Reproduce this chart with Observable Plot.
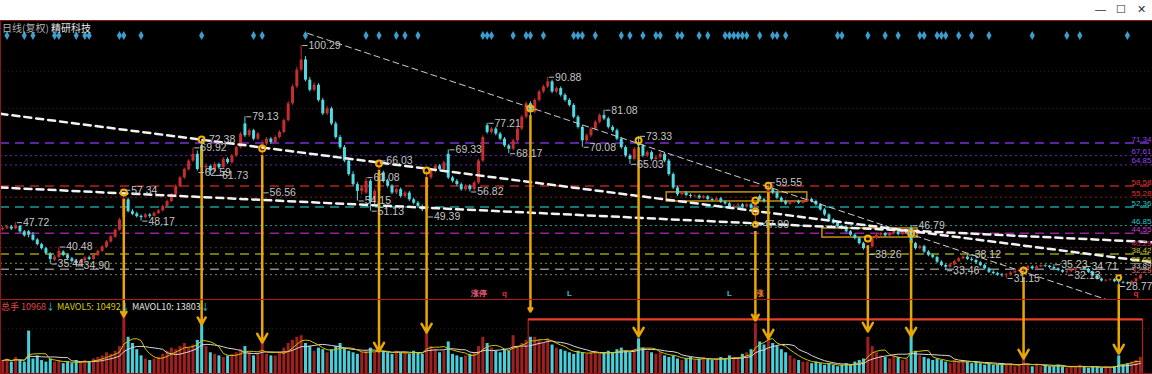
<!DOCTYPE html>
<html><head><meta charset="utf-8">
<script src="https://cdn.jsdelivr.net/npm/d3@7"></script>
<script src="https://cdn.jsdelivr.net/npm/@observablehq/plot@0.6"></script>
<style>
html,body{margin:0;padding:0;background:#000;width:1152px;height:374px;overflow:hidden;font-family:"Liberation Sans","Noto Sans CJK SC",sans-serif;}
#wrap{position:relative;width:1152px;height:374px;background:#000;}
#top{position:absolute;left:0;top:0;width:1152px;height:20px;background:#fff;}
.wc{position:absolute;top:3px;font-size:11px;color:#333;line-height:12px;}
#pricePanel{position:absolute;left:0;top:20px;width:1152px;height:280px;}
#volPanel{position:absolute;left:0;top:300px;width:1152px;height:74px;}
.hl{position:absolute;left:0;width:1152px;height:1px;background:#8e1616;}
.vl{position:absolute;left:0;top:20px;width:1px;height:354px;background:#8e1616;}
#title{position:absolute;left:2px;top:21px;font-size:10px;color:#b4b4b4;font-family:"Noto Sans CJK SC",sans-serif;line-height:13px;}
#volLabel{position:absolute;left:1px;top:301px;font-size:9px;line-height:11px;font-family:"Noto Sans CJK SC","Liberation Sans",sans-serif;}
svg{display:block;}
</style></head>
<body><div id="wrap">
<div id="top"><span class="wc" style="left:1095px">—</span><span class="wc" style="left:1116px">☐</span><span class="wc" style="left:1137px">✕</span></div>
<div id="pricePanel"></div>
<div id="volPanel"></div>
<div class="hl" style="top:20px"></div>
<div class="hl" style="top:299px;background:#b01c1c"></div>
<div class="hl" style="top:373px"></div>
<div class="vl"></div>
<div id="title">日线(复权) <span style="color:#e6e6e6">精研科技</span></div>
<div id="volLabel"><span style="color:#e04848">总手 10968</span><span style="color:#3cc8d8">↓</span> <span style="color:#d4cc10">MAVOL5: 10492</span><span style="color:#3cc8d8">↓</span> <span style="color:#e0e0e0">MAVOL10: 13803</span><span style="color:#3cc8d8">↓</span></div>
</div>
<script>
// ---- daily candles (复权), index 0..263 ----
const open = [
45.6,46.0,46.4,45.9,46.6,45.0,45.0,44.0,42.6,41.2,
40.0,38.4,36.6,37.4,39.0,38.0,37.0,36.2,35.6,36.4,
37.3,36.8,38.0,39.2,40.4,42.0,43.4,45.5,49.2,54.5,
51.0,50.3,49.6,49.2,50.0,49.6,50.4,51.2,52.4,54.0,
56.0,58.4,61.0,63.4,66.0,68.0,70.5,64.0,64.4,63.0,
65.0,64.0,66.5,65.5,67.5,70.0,77.0,73.5,75.0,72.5,
69.5,71.0,72.5,71.5,73.0,74.5,78.0,83.0,88.0,93.0,
96.0,90.0,87.0,88.5,84.0,80.0,81.5,77.0,73.0,70.0,
66.0,62.0,59.0,57.0,56.5,60.0,54.0,57.0,62.5,60.0,
58.5,56.5,57.5,55.5,56.5,54.5,53.5,52.5,51.0,61.0,
63.0,64.5,63.5,68.0,61.0,60.0,59.0,57.5,58.5,57.5,
59.5,66.0,76.5,74.5,75.5,74.0,72.5,70.5,69.5,72.0,
75.5,79.0,83.0,80.5,84.0,86.5,88.0,89.5,86.5,87.5,
85.5,84.0,82.5,79.0,76.0,72.0,73.5,75.5,77.5,79.5,
78.5,76.0,75.0,72.5,70.0,67.5,66.5,71.5,70.5,67.5,
68.5,66.5,67.0,68.0,66.0,62.0,58.0,56.0,56.5,55.8,
55.5,55.6,55.0,55.4,54.6,54.3,54.8,53.8,53.3,52.2,
52.6,53.0,52.4,53.0,52.0,55.5,54.5,54.0,57.5,56.5,
55.0,54.0,53.2,53.8,54.0,53.5,54.0,54.6,54.0,53.0,
51.5,50.0,48.5,47.5,46.5,46.0,45.0,44.0,43.0,41.5,
40.0,40.5,43.0,44.0,44.5,43.8,44.4,45.0,44.2,45.0,
46.0,41.5,40.0,40.6,39.0,38.0,37.4,36.0,35.0,34.5,
35.2,36.2,37.0,37.5,36.8,36.5,35.8,35.0,34.0,33.0,
32.6,32.2,32.0,32.2,32.8,33.2,33.6,34.2,34.6,34.0,
34.6,35.0,34.8,34.4,34.0,33.5,33.0,33.2,33.6,34.0,
34.3,33.9,33.0,32.0,31.0,30.4,30.6,30.8,30.2,30.0,
29.8,29.6,30.2,31.0];
const high = [
46.6,47.0,46.8,47.72,46.9,45.4,45.4,44.8,43.0,41.6,
40.4,38.8,38.0,40.48,39.4,38.4,37.4,36.6,36.8,37.6,
37.8,38.4,39.6,40.9,42.4,43.9,45.9,49.0,57.34,55.0,
51.6,50.8,50.0,50.5,50.4,50.9,51.6,52.9,54.4,56.4,
58.9,61.4,63.9,66.4,69.92,69.0,72.38,65.2,64.8,65.6,
65.4,67.0,67.0,68.0,70.5,74.5,79.13,75.5,75.4,74.5,
72.0,73.0,73.0,73.5,75.0,78.5,83.6,88.6,93.8,100.29,
97.0,90.8,89.2,89.0,84.6,82.2,82.0,77.6,73.6,70.6,
66.6,62.8,59.6,58.6,61.08,60.5,57.6,66.03,63.0,60.6,
59.0,58.0,58.0,57.0,57.0,55.0,54.0,53.0,63.0,63.6,
65.0,65.0,66.0,69.33,61.5,60.5,59.5,59.0,59.0,60.0,
66.5,73.5,77.21,76.0,76.0,74.5,73.0,71.0,72.5,76.0,
79.5,83.5,83.6,84.5,87.0,88.5,90.88,90.0,88.0,88.0,
86.0,84.5,83.0,79.5,76.5,74.0,76.0,78.0,80.0,81.08,
79.0,76.5,75.5,73.0,70.5,68.0,70.0,73.33,71.0,69.0,
69.0,67.5,68.5,68.5,66.5,62.5,58.5,57.0,57.0,56.2,
56.0,56.0,55.8,55.8,55.0,55.2,55.2,54.2,53.7,53.0,
53.4,53.4,53.4,53.4,54.0,56.0,55.0,59.55,58.0,57.0,
55.4,54.4,54.2,54.4,54.4,54.4,55.0,55.0,54.4,53.4,
51.9,50.4,48.9,47.9,47.0,46.4,45.4,44.4,43.4,41.9,
41.0,43.4,44.4,44.9,44.8,44.8,45.4,45.3,45.4,46.0,
46.79,41.9,41.0,41.0,39.4,38.4,37.8,36.4,35.4,35.6,
36.6,37.4,37.9,38.12,37.4,36.9,36.2,35.4,34.4,33.4,
33.0,32.6,32.6,33.2,33.6,34.0,34.6,35.0,34.9,35.0,
35.2,35.2,35.0,35.23,34.3,33.8,33.5,33.9,34.3,34.5,
34.71,34.2,33.3,32.3,31.3,30.9,31.1,31.1,30.5,30.3,
30.1,30.5,31.3,32.3];
const low = [
45.2,45.6,45.4,45.6,44.6,43.4,43.2,42.2,40.8,39.6,
38.2,35.44,36.2,37.0,37.6,36.6,35.8,34.90,35.2,36.0,
36.4,36.5,37.7,38.9,40.1,41.6,43.1,45.2,48.9,50.6,
49.8,49.1,48.17,48.8,49.0,49.3,50.1,50.9,52.1,53.7,
55.6,58.0,60.6,63.0,65.6,63.0,62.8,62.59,61.73,62.6,
63.5,63.6,65.0,65.1,67.1,69.6,73.0,73.0,72.0,72.1,
56.56,70.5,71.0,71.1,72.6,74.1,77.6,82.5,87.5,92.5,
89.5,86.5,86.5,83.5,79.5,79.5,76.5,72.5,69.5,65.5,
61.5,58.5,54.15,56.0,56.0,51.13,53.5,56.5,59.5,58.0,
56.0,56.0,55.0,55.0,54.0,53.0,52.0,51.0,49.39,60.5,
62.5,63.0,63.0,60.5,59.5,58.5,57.0,57.0,56.82,57.0,
59.0,65.5,74.0,74.0,73.5,72.0,70.0,68.17,69.0,71.5,
75.0,78.5,74.0,80.0,83.5,86.0,87.5,86.0,86.0,85.0,
83.5,82.0,78.5,75.5,70.08,71.5,73.0,75.0,77.0,78.0,
75.5,74.5,72.0,69.5,67.0,65.03,66.0,69.5,67.0,67.0,
66.0,66.0,66.5,65.5,61.5,57.5,55.5,55.6,55.4,55.0,
55.1,54.6,54.7,54.2,53.9,54.0,53.4,52.9,51.8,51.9,
52.2,52.0,52.0,51.6,47.00,54.0,53.5,53.5,56.0,54.5,
53.6,52.8,52.9,53.4,53.1,53.2,53.7,53.6,52.6,51.1,
49.6,48.1,47.1,46.1,45.6,44.6,43.6,42.6,41.1,39.6,
38.26,40.2,42.6,43.6,43.4,43.5,44.0,43.8,43.9,44.7,
41.0,39.6,39.7,38.6,37.6,37.0,35.6,34.6,33.46,34.2,
34.9,35.9,36.7,36.5,36.1,35.4,34.6,33.6,32.6,32.2,
31.8,31.5,31.15,31.9,32.5,32.9,33.2,33.9,33.6,33.7,
34.3,34.4,34.0,33.7,33.2,32.7,32.13,32.9,33.3,33.7,
33.6,32.7,31.7,30.7,30.1,30.1,30.3,29.9,28.77,29.5,
29.3,29.3,29.9,30.7];
const close = [
46.0,46.5,45.8,46.8,45.0,43.8,44.0,42.5,41.2,40.0,
38.6,36.8,37.5,39.2,38.0,37.0,36.2,35.6,36.4,37.2,
36.8,38.0,39.2,40.5,42.0,43.5,45.5,48.5,54.8,51.0,
50.2,49.5,49.2,50.0,49.6,50.5,51.2,52.5,54.0,56.0,
58.5,61.0,63.5,66.0,68.0,63.5,64.0,64.5,63.0,65.0,
64.0,66.5,65.5,67.5,70.0,74.0,73.5,75.0,72.5,74.0,
71.0,72.5,71.5,73.0,74.5,78.0,83.0,88.0,93.0,96.0,
90.0,87.0,88.5,84.0,80.0,81.5,77.0,73.0,70.0,66.0,
62.0,59.0,57.0,58.0,60.0,54.0,57.0,62.0,60.0,58.5,
56.5,57.5,55.5,56.5,54.5,53.5,52.5,51.5,61.0,63.0,
64.5,63.5,65.5,61.0,60.0,59.0,57.5,58.5,57.5,59.5,
66.0,73.0,74.5,75.5,74.0,72.5,70.5,69.5,72.0,75.5,
79.0,83.0,80.5,84.0,86.5,88.0,89.5,86.5,87.5,85.5,
84.0,82.5,79.0,76.0,72.0,73.5,75.5,77.5,79.5,78.5,
76.0,75.0,72.5,70.0,67.5,66.5,69.5,70.5,67.5,68.5,
66.5,67.0,68.0,66.0,62.0,58.0,56.0,56.5,55.8,55.5,
55.6,55.0,55.4,54.6,54.3,54.8,53.8,53.3,52.2,52.6,
53.0,52.4,53.0,52.0,53.5,54.5,54.0,57.5,56.5,55.0,
54.0,53.2,53.8,54.0,53.5,54.0,54.6,54.0,53.0,51.5,
50.0,48.5,47.5,46.5,46.0,45.0,44.0,43.0,41.5,40.0,
40.5,43.0,44.0,44.5,43.8,44.4,45.0,44.2,45.0,45.6,
41.5,40.0,40.6,39.0,38.0,37.4,36.0,35.0,34.5,35.2,
36.2,37.0,37.5,36.8,36.5,35.8,35.0,34.0,33.0,32.6,
32.2,32.0,32.2,32.8,33.2,33.6,34.2,34.6,34.0,34.6,
35.0,34.8,34.4,34.0,33.5,33.0,33.2,33.6,34.0,34.3,
33.9,33.0,32.0,31.0,30.4,30.6,30.8,30.2,30.0,29.8,
29.6,30.2,31.0,32.0];
// volume (千手)
const volume = [
9,10,8,11,9,8,28,10,12,9,
8,10,8,9,7,8,7,9,8,9,
8,10,11,12,14,13,15,18,37.4,24,
20,16,12,10,9,10,11,13,15,17,
16,18,20,17,19,22,32.3,18,14,13,
12,11,12,13,14,16,18,14,12,13,
20.6,13,12,12,14,17,20,22,24,25,
20,18,15,17,16,14,16,18,20,17,
15,14,13,14,15,17,14,14.8,15,14,
13,15,14,14,13,15,14,13,27.1,18,
16,14,15,21,13,12,11,12,13,14,
18,24,20,17,15,14,16,15,25,18,
20,22,24,24,22,20,23,19,17,16,
15,14,13,15,14,13,14,15,13,14,
15,14,16,17,15,14,16,23,17,15,
14,13,14,12,11,12,10,9,10,11,
9,10,11,10,9,10,11,10,12,11,
10,13,14,16,33,21,19,23,20,18,
16,14,12,10,9,8,8,7,8,7,
6,7,6,5,6,7,6,8,9,10,
24,18,14,12,11,10,12,11,9,10,
29,15,12,11,10,9,10,9,8,7,
9,8,9,8,7,8,7,6,7,6,
6,7,6,7,5,6,10,6,5,6,
5,6,5,5,6,5,4,5,5,6,
5,4,5,5,4,5,4,5,12,6,
7,8,9,11];

// horizontal price levels (right-edge labels)
const levels     = [71.34, 67.61, 64.85, 58.58, 55.28, 52.36, 46.85, 44.55, 40.29, 38.42, 35.66, 33.89, 32.29];
const levelKind  = ["dash","dot","dot","dash","dot","dash","dot","dash","dot","dash","dot","dash","dot"];
const levelLine  = ["#7b2fd6","#6428b0","#6428b0","#b82222","#8a1c1c","#1a9a9a","#1a9a9a","#9a1f9a","#6a1a34","#9a9a10","#8a8a10","#8a8a8a","#7a7a7a"];
const levelColor = ["#8e44f0","#8e44f0","#8e44f0","#e03030","#e03030","#2cc4c4","#2cc4c4","#c83cc8","#c83060","#c8c828","#c8c828","#d0d0d0","#e06a6a"];
const gridLevels = [92.6, 81.6];

// trend lines (candle index, price)
const trendThin = [{i: 70.5, p: 103.9}, {i: 256.5, p: 24.33}];
const trendA    = [{i: -0.5, p: 80.02}, {i: 265.8, p: 35.99}];
const trendB    = [{i: -0.5, p: 58.15}, {i: 265.8, p: 41.92}];

// annotation boxes
const boxFrom = [153.5, 189.5], boxTo = [186, 211.5], boxHi = [56.7, 46.0], boxLo = [54.0, 43.3];

// highlighted circles (candle index, price, small?)
const circleIdx   = [28, 46, 60, 87, 98, 122, 147, 174, 174, 174, 177, 200, 210, 236, 258];
const circlePrice = [56.7, 72.4, 69.7, 65.3, 63.2, 81.6, 72.1, 54.3, 51.0, 47.2, 58.7, 43.0, 44.5, 33.5, 31.4];
const circleSmall = [0,0,0,0,0,0,0,0,0,1,0,0,0,0,1];

// arrows: from circle down to volume bar
const arrowIdx   = [28, 46, 60, 87, 98, 122, 147, 174, 177, 200, 210, 236, 258];
const arrowFrom  = [56.7, 72.4, 69.7, 65.3, 63.2, 81.6, 72.1, 47.2, 58.7, 43.0, 44.5, 33.5, 31.4];
const arrowToVol = [37.4, 32.3, 20.6, 14.8, 27.1, 40.6, 24.5, 34.8, 23.2, 27.7, 24.5, 10.3, 13.5];

// high / low price labels
const labelIdx   = [3,13,11,17,28,32,44,46,45,49,56,60,69,82,84,85,87,98,103,108,112,117,126,134,139,145,147,174,177,200,210,218,223,232,243,246,250,258];
const labelPrice = [47.72,40.48,35.44,34.90,57.34,48.17,69.92,72.38,62.59,61.73,79.13,56.56,100.29,54.15,61.08,51.13,66.03,49.39,69.33,56.82,77.21,68.17,90.88,70.08,81.08,65.03,73.33,47.00,59.55,38.26,46.79,33.46,38.12,31.15,35.23,32.13,34.71,28.77];

// signal diamonds (candle index)
const diamondIdx = [1,5,7,12,13,17,19,20,27,28,32,46,58,60,70,84,87,91,93,96,111,112,113,118,121,122,125,132,133,134,137,143,145,148,151,152,156,157,161,163,167,168,169,170,171,172,175,178,179,181,193,194,200,204,207,212,213,216,217,218,221,224,228,238,246,249,260];

// small signal markers near bottom of price panel
const markerIdx  = [110, 116, 131, 168, 175, 262];
const markerText = ["涨停", "q", "L", "L", "涨", "q"];
const markerColor= ["#e05878", "#e03030", "#30c0d0", "#30c0d0", "#e07a30", "#e03030"];

// volume highlight box
const volBoxFrom = 121.6, volBoxTo = 263.6, volBoxTop = 35.5;

// ---- build ----
const N = close.length;
const candles = d3.range(N).map(i => ({i, o: open[i], h: high[i], l: low[i], c: close[i], v: volume[i], up: close[i] >= open[i]}));
const UP = "#c62e2e", DOWN = "#4fdbe3", VUP = "#a01f1f", VDOWN = "#48d0da";
const levelRows = levels.map((v, k) => ({v, kind: levelKind[k], line: levelLine[k], col: levelColor[k]}));
const boxes = boxFrom.map((f, k) => ({f, t: boxTo[k], hi: boxHi[k], lo: boxLo[k]}));
const circles = circleIdx.map((i, k) => ({i, p: circlePrice[k], small: circleSmall[k]}));
const arrows = arrowIdx.map((i, k) => ({i, p: arrowFrom[k], v: arrowToVol[k]}));
const labels = labelIdx.map((i, k) => ({i, p: labelPrice[k]}));
const markers = markerIdx.map((i, k) => ({i, t: markerText[k], c: markerColor[k]}));
const xScale = {domain: [-0.5, 265.8], axis: null};
const yDom = [24.62, 107.71];
const FONT = "Liberation Sans, DejaVu Sans, sans-serif";

const price = Plot.plot({
  width: 1152, height: 280, marginTop: 0, marginBottom: 0, marginLeft: 0, marginRight: 0,
  x: xScale, y: {domain: yDom, axis: null}, color: {type: "identity"},
  style: {background: "#000", fontFamily: FONT, overflow: "visible"},
  marks: [
    Plot.ruleY(gridLevels, {stroke: "#4e0e0e", strokeDasharray: "1,3"}),
    Plot.ruleY(levelRows.filter(d => d.kind === "dash"), {y: "v", stroke: d => d.line, strokeDasharray: "9,6", strokeWidth: 1.5}),
    Plot.ruleY(levelRows.filter(d => d.kind === "dot"), {y: "v", stroke: d => d.line, strokeDasharray: "2,3", strokeWidth: 1}),
    Plot.rect(boxes, {x1: "f", x2: "t", y1: "lo", y2: "hi", stroke: "#b8880c", strokeWidth: 1.6, fill: "none"}),
    Plot.ruleX(candles, {x: "i", y1: "l", y2: "h", stroke: d => d.up ? UP : DOWN, strokeWidth: 1}),
    Plot.ruleX(candles, {x: "i", y1: "o", y2: "c", stroke: d => d.up ? UP : DOWN, strokeWidth: 3}),
    Plot.line(trendThin, {x: "i", y: "p", stroke: "#cfcfcf", strokeWidth: 1, strokeDasharray: "6,4", clip: true}),
    Plot.line(trendA, {x: "i", y: "p", stroke: "#f2f2f2", strokeWidth: 2.5, strokeDasharray: "7,5", clip: true}),
    Plot.line(trendB, {x: "i", y: "p", stroke: "#f2f2f2", strokeWidth: 2.5, strokeDasharray: "7,5", clip: true}),
    Plot.ruleX(arrows, {x: "i", y1: d => d.p - 2.1, y2: yDom[0], stroke: "#e8a600", strokeWidth: 2.5}),
    Plot.dot(circles, {x: "i", y: "p", r: d => d.small ? 4.5 : 7, stroke: "#f2b000", strokeWidth: 2, fill: "none"}),
    Plot.ruleY(labels, {y: "p", x1: d => d.i + 0.4, x2: d => d.i + 1.6, stroke: "#bdbdbd", strokeWidth: 1}),
    Plot.text(labels, {x: d => d.i + 1.7, y: "p", text: d => d.p.toFixed(2), fill: "#c4c4c4", textAnchor: "start", fontSize: 10.5}),
    Plot.text(levelRows, {y: "v", text: d => d.v.toFixed(2), fill: d => d.col, frameAnchor: "right", textAnchor: "end", dx: -1, dy: -4, fontSize: 8}),
    Plot.dot(diamondIdx, {x: d => d, frameAnchor: "top", dy: 15, symbol: "diamond", r: 2.7, fill: "#3a9fd0"}),
    Plot.text(markers, {x: "i", text: "t", fill: d => d.c, frameAnchor: "bottom", dy: -5, fontSize: 8, fontWeight: "bold"})
  ]
});
document.getElementById("pricePanel").appendChild(price);

const volMax = 47.7;
const vol = Plot.plot({
  width: 1152, height: 74, marginTop: 0, marginBottom: 0, marginLeft: 0, marginRight: 0,
  x: xScale, y: {domain: [0, volMax], axis: null}, color: {type: "identity"},
  style: {background: "#000", fontFamily: FONT},
  marks: [
    Plot.ruleY([volMax * 0.62], {stroke: "#4e0e0e", strokeDasharray: "1,3"}),
    Plot.ruleX(candles, {x: "i", y: "v", stroke: d => d.up ? VUP : VDOWN, strokeWidth: 3}),
    Plot.lineY(candles, Plot.windowY({k: 10, anchor: "end"}, {x: "i", y: "v", stroke: "#d8d8d8", strokeWidth: 1})),
    Plot.lineY(candles, Plot.windowY({k: 5, anchor: "end"}, {x: "i", y: "v", stroke: "#d6c200", strokeWidth: 1})),
    Plot.rect([{f: volBoxFrom, t: volBoxTo, top: volBoxTop}], {x1: "f", x2: "t", y1: 0, y2: "top", stroke: "#b81c1c", strokeWidth: 1.2, fill: "none"}),
    Plot.ruleY([{f: volBoxFrom, t: volBoxTo, top: volBoxTop}], {y: "top", x1: "f", x2: "t", stroke: "#e8402a", strokeWidth: 2}),
    Plot.arrow(arrows, {x1: "i", x2: "i", y1: volMax, y2: "v", stroke: "#e8a600", strokeWidth: 2.5, headLength: 6})
  ]
});
document.getElementById("volPanel").appendChild(vol);
</script>
</body></html>
